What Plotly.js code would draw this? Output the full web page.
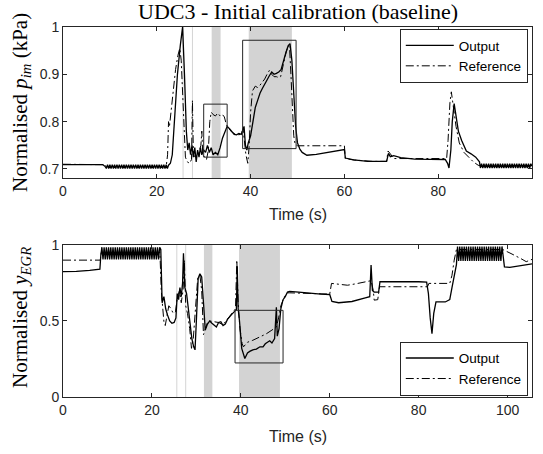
<!DOCTYPE html>
<html><head><meta charset="utf-8">
<script src="https://cdn.plot.ly/plotly-3.0.1.min.js"></script>
<style>html,body{margin:0;padding:0;background:#fff}#chart{width:543px;height:454px}</style>
</head><body><div id="chart"></div>
<script>
// ---- DATA (time s, normalised value) ----
const topOutput = [[0,.709],[8.5,.709],[9,.705],
[9.25,.701],[9.5,.709],[9.75,.701],[10,.709],[10.25,.701],[10.5,.709],[10.75,.701],[11,.709],[11.25,.701],[11.5,.709],[11.75,.701],[12,.709],[12.25,.701],[12.5,.709],[12.75,.701],[13,.709],[13.25,.701],[13.5,.709],[13.75,.701],[14,.709],[14.25,.701],[14.5,.709],[14.75,.701],[15,.709],[15.25,.701],[15.5,.709],[15.75,.701],[16,.709],[16.25,.701],[16.5,.709],[16.75,.701],[17,.709],[17.25,.701],[17.5,.709],[17.75,.701],[18,.709],[18.25,.701],[18.5,.709],[18.75,.701],[19,.709],[19.25,.701],[19.5,.709],[19.75,.701],[20,.709],[20.25,.701],[20.5,.709],[20.75,.701],[21,.709],[21.25,.701],[21.5,.709],[21.75,.701],[22,.709],[22.25,.701],[22.5,.708],
[22.9,.712],[23.3,.73],[23.8,.80],[24.4,.90],[25.0,.96],[25.5,1.0],[25.9,.90],[26.3,.78],[26.6,.74],[26.9,.755],[27.2,.73],[27.5,.75],[27.8,.725],[28.1,.745],[28.4,.715],[28.7,.74],[29.0,.725],[29.3,.745],[29.6,.73],[30.0,.74],[30.4,.735],[30.8,.75],[31.2,.735],[31.6,.745],[32.0,.73],[32.5,.735],[33.0,.73],[33.5,.745],[34.0,.765],[34.5,.78],[35.0,.79],[35.5,.785],[36.0,.778],[36.5,.773],[37.0,.772],[37.5,.775],[38.0,.773],[38.3,.78],[38.6,.79],[38.9,.75],[39.2,.74],[39.5,.755],[40.0,.77],[40.5,.80],[41.0,.83],[41.5,.845],[42.0,.86],[42.5,.87],[43.0,.88],[43.5,.89],[44.0,.897],[44.5,.905],[45.0,.90],[45.5,.902],[46.0,.905],[46.5,.91],[47.0,.93],[47.5,.945],[48.0,.96],[48.4,.965],[48.8,.93],[49.2,.86],[49.6,.79],[50.0,.755],[50.5,.742],[51.0,.735],[52.0,.729],[54.0,.731],[56.0,.734],[58.0,.737],[60.0,.741],[60.2,.723],[62.0,.719],[65.0,.716],[68.0,.717],[69.0,.716],[69.4,.733],[69.8,.726],[70.5,.728],[72.0,.724],[75.0,.721],[78.0,.72],[81.5,.72],[82.0,.712],[82.3,.702],[82.7,.74],[83.0,.80],[83.4,.838],[83.8,.81],[84.3,.78],[85.0,.76],[86.0,.738],[87.0,.732],[88.0,.725],[88.8,.715],
[89,.702],[89.25,.711],[89.5,.702],[89.75,.711],[90,.702],[90.25,.711],[90.5,.702],[90.75,.711],[91,.702],[91.25,.711],[91.5,.702],[91.75,.711],[92,.702],[92.25,.711],[92.5,.702],[92.75,.711],[93,.702],[93.25,.711],[93.5,.702],[93.75,.711],[94,.702],[94.25,.711],[94.5,.702],[94.75,.711],[95,.702],[95.25,.711],[95.5,.702],[95.75,.711],[96,.702],[96.25,.711],[96.5,.702],[96.75,.711],[97,.702],[97.25,.711],[97.5,.702],[97.75,.711],[98,.702],[98.25,.711],[98.5,.702],[98.75,.711],[99,.702],[99.25,.711],[99.5,.702],[99.75,.711],[100,.706]];

const topReference = [[0,.71],[9,.709],[9.2,.705],[22.0,.705],[22.3,.73],[22.5,.80],[22.7,.79],[23.0,.82],[23.5,.87],[24.0,.91],[24.5,.94],[24.9,.955],[25.2,.93],[25.5,.86],[25.8,.77],[26.1,.725],[26.5,.715],[27.0,.712],[27.4,.72],[27.6,.845],[27.8,.73],[28.2,.725],[28.6,.73],[29.0,.735],[29.4,.75],[29.6,.78],[29.8,.73],[30.2,.725],[30.6,.72],[31.0,.74],[31.3,.80],[31.6,.82],[32.0,.815],[32.5,.812],[33.0,.818],[33.5,.812],[34.0,.815],[34.4,.81],[34.8,.795],[35.2,.787],[35.6,.782],[36.0,.778],[37.0,.772],[38.0,.773],[38.4,.785],[38.7,.75],[39.0,.73],[39.4,.712],[39.7,.75],[40.0,.82],[40.4,.865],[41.0,.875],[41.5,.872],[42.0,.877],[42.5,.883],[43.0,.89],[43.5,.90],[44.0,.908],[44.5,.90],[45.0,.895],[45.5,.895],[46.0,.893],[46.4,.895],[46.8,.915],[47.2,.93],[47.6,.948],[48.0,.96],[48.3,.958],[48.6,.90],[48.9,.82],[49.2,.77],[49.5,.752],[50.0,.749],[60.0,.749],[60.2,.722],[62.0,.719],[66.0,.716],[69.0,.716],[69.3,.738],[69.8,.732],[70.5,.722],[75.0,.722],[81.8,.722],[82.1,.76],[82.5,.84],[82.8,.863],[83.2,.83],[83.8,.79],[84.5,.755],[85.5,.735],[86.5,.725],[87.5,.715],[88.5,.708],[89.5,.705],[100,.705]];

const bottomOutput = [[0,.825],[3,.826],[6,.833],[8.3,.84],[8.5,.93],
[8.75,.985],[9,.905],[9.25,.985],[9.5,.905],[9.75,.985],[10,.905],[10.25,.985],[10.5,.905],[10.75,.985],[11,.905],[11.25,.985],[11.5,.905],[11.75,.985],[12,.905],[12.25,.985],[12.5,.905],[12.75,.985],[13,.905],[13.25,.985],[13.5,.905],[13.75,.985],[14,.905],[14.25,.985],[14.5,.905],[14.75,.985],[15,.905],[15.25,.985],[15.5,.905],[15.75,.985],[16,.905],[16.25,.985],[16.5,.905],[16.75,.985],[17,.905],[17.25,.985],[17.5,.905],[17.75,.985],[18,.905],[18.25,.985],[18.5,.905],[18.75,.985],[19,.905],[19.25,.985],[19.5,.905],[19.75,.985],[20,.905],[20.25,.985],[20.5,.905],[20.75,.985],[21,.905],[21.25,.985],[21.5,.905],[21.75,.985],
[22.0,.97],[22.3,.62],[22.7,.66],[23.1,.58],[23.5,.54],[24.0,.50],[24.5,.485],[25.0,.49],[25.4,.52],[25.7,.68],[26.0,.64],[26.3,.72],[26.6,.66],[26.9,.75],[27.1,.945],[27.4,.72],[27.8,.68],[28.2,.58],[28.6,.45],[29.0,.38],[29.4,.33],[29.7,.31],[30.0,.50],[30.4,.78],[30.8,.81],[31.2,.79],[31.6,.62],[32.0,.44],[32.5,.48],[33.0,.50],[33.5,.485],[34.0,.47],[34.5,.46],[35.0,.49],[35.5,.495],[36.0,.47],[36.5,.48],[37.0,.51],[37.5,.53],[38.0,.545],[38.5,.56],[39.0,.575],[39.2,.86],[39.4,.58],[39.7,.50],[40.2,.32],[40.9,.253],[41.5,.29],[42.0,.30],[42.7,.31],[43.5,.315],[44.3,.33],[45.0,.33],[45.5,.35],[46.0,.36],[46.5,.37],[47.0,.355],[47.6,.384],[48.0,.59],[48.2,.40],[48.6,.45],[49.0,.58],[49.5,.64],[50.0,.66],[50.5,.69],[51.0,.695],[53.0,.69],[55.0,.683],[58.0,.677],[60.0,.674],[60.5,.628],[62.0,.62],[65.0,.628],[68.0,.652],[69.0,.66],[69.3,.868],[69.6,.70],[70.0,.69],[71.0,.69],[71.3,.758],[75.0,.76],[80.0,.758],[81.8,.756],[82.2,.68],[82.6,.52],[83.0,.417],[83.4,.55],[83.9,.626],[86.0,.625],[87.0,.64],[87.5,.72],[88.0,.80],[88.5,.87],
[88.75,.99],[89,.895],[89.25,.99],[89.5,.895],[89.75,.99],[90,.895],[90.25,.99],[90.5,.895],[90.75,.99],[91,.895],[91.25,.99],[91.5,.895],[91.75,.99],[92,.895],[92.25,.99],[92.5,.895],[92.75,.99],[93,.895],[93.25,.99],[93.5,.895],[93.75,.99],[94,.895],[94.25,.99],[94.5,.895],[94.75,.99],[95,.895],[95.25,.99],[95.5,.895],[95.75,.99],[96,.895],[96.25,.99],[96.5,.895],[96.75,.99],[97,.895],[97.25,.99],[97.5,.895],[97.75,.99],[98,.895],[98.25,.99],[98.5,.895],[98.75,.99],
[99.3,.856],[100.5,.852],[102.0,.86],[104.0,.87],[105.5,.875]];

const bottomReference = [[0,.90],[8.4,.90],[8.6,.95],[21.8,.95],[22.1,.70],[22.4,.56],[22.7,.495],[23.0,.47],[23.4,.55],[23.8,.60],[24.3,.58],[24.8,.55],[25.3,.56],[25.7,.65],[26.2,.70],[26.6,.62],[27.0,.70],[27.3,.90],[27.6,.60],[28.0,.55],[28.5,.45],[28.9,.32],[29.3,.38],[29.8,.62],[30.3,.78],[30.8,.80],[31.2,.70],[31.6,.41],[32.0,.45],[32.5,.49],[33.0,.50],[35.0,.49],[36.0,.475],[37.0,.51],[38.0,.55],[38.8,.58],[39.1,.90],[39.4,.62],[39.8,.45],[40.3,.35],[40.6,.33],[41.5,.36],[42.7,.373],[44.0,.39],[45.7,.415],[47.0,.44],[48.0,.46],[48.5,.52],[49.0,.60],[49.8,.66],[50.5,.685],[51.0,.685],[55.0,.68],[60.0,.677],[60.4,.747],[62.0,.742],[64.0,.735],[66.0,.745],[68.2,.76],[69.3,.765],[69.8,.70],[70.0,.637],[70.8,.64],[71.2,.725],[82.0,.725],[82.3,.747],[87.0,.747],[87.5,.80],[88.0,.90],[88.5,.97],[98.9,.97],[99.5,.96],[101.0,.94],[103.0,.91],[104.2,.89],[105.5,.905]];

const seriesNames = ['Output','Reference'];
const markerTimes = [25.6, 27.6];          // thin grey lines
const shadedBands = [[31.7,33.6],[39.6,48.8]];
const topBoxes = [[30.0,35.0,0.725,0.837],[38.3,49.7,0.743,0.972]];
const bottomBoxes = [[38.7,49.5,0.224,0.57]];
const topXTicks = [0,20,40,60,80,100];
const bottomXTicks = [0,20,40,60,80,100];
const topYTicks = [0.7,0.8,0.9,1];
const topYTickText = ['0.7','0.8','0.9','1'];
const bottomYTicks = [0,0.5,1];
const bottomYTickText = ['0','0.5','1'];
const chartTitle = 'UDC3 - Initial calibration (baseline)';
const topYTitle = 'Normalised <i>p</i><sub><i>im</i></sub> (kPa)';
const bottomYTitle = 'Normalised <i>y</i><sub><i>EGR</i></sub>';
const xTitle = 'Time (s)';

// ---- PLOT ----
const sans = 'Liberation Sans, Arial, sans-serif';
const serif = 'Liberation Serif, Times New Roman, serif';
const axCol = '#262626';
const refDash = '8px,3px,2px,3px';

function tr(data, name, xa, ya, dash, width, legend, show){
  return {x: data.map(p=>p[0]), y: data.map(p=>p[1]), type:'scatter', mode:'lines', name:name,
    xaxis:xa, yaxis:ya, line:{color:'#000', width:width, dash:dash}, legend:legend, showlegend:show, hoverinfo:'skip'};
}
const traces = [
  tr(topOutput, seriesNames[0], 'x', 'y', 'solid', 1.3, 'legend', true),
  tr(topReference, seriesNames[1], 'x', 'y', refDash, 1, 'legend', true),
  tr(bottomOutput, seriesNames[0], 'x2', 'y2', 'solid', 1.3, 'legend2', true),
  tr(bottomReference, seriesNames[1], 'x2', 'y2', refDash, 1, 'legend2', true)
];

const shapes = [];
[['x','y domain'],['x2','y2 domain']].forEach(([xr,yr])=>{
  shadedBands.forEach(b=>shapes.push({type:'rect', xref:xr, yref:yr, x0:b[0], x1:b[1], y0:0, y1:1, fillcolor:'#d3d3d3', line:{width:0}, layer:'below'}));
  markerTimes.forEach(t=>shapes.push({type:'line', xref:xr, yref:yr, x0:t, x1:t, y0:0, y1:1, line:{color:'#d4d4d4', width:1}, layer:'below'}));
});
topBoxes.forEach(b=>shapes.push({type:'rect', xref:'x', yref:'y', x0:b[0], x1:b[1], y0:b[2], y1:b[3], line:{color:axCol, width:1}, fillcolor:'rgba(0,0,0,0)', layer:'above'}));
bottomBoxes.forEach(b=>shapes.push({type:'rect', xref:'x2', yref:'y2', x0:b[0], x1:b[1], y0:b[2], y1:b[3], line:{color:axCol, width:1}, fillcolor:'rgba(0,0,0,0)', layer:'above'}));

function axis(extra){
  return Object.assign({showgrid:false, zeroline:false, showline:true, linecolor:axCol, linewidth:1, mirror:'ticks',
    ticks:'inside', ticklen:4, tickcolor:axCol, tickfont:{family:sans, size:14, color:axCol}, fixedrange:true}, extra);
}
const L = 63, R = 11, T = 27, B = 57, H = 454 - T - B, W = 543 - L - R;
const legendBase = {xanchor:'right', x:0.991, bordercolor:axCol, borderwidth:1, bgcolor:'#fff',
  font:{family:sans, size:13.5, color:'#000'}, itemwidth:48, tracegroupgap:0};

const layout = {
  width:543, height:454, margin:{l:L, r:R, t:T, b:B}, paper_bgcolor:'#fff', plot_bgcolor:'#fff',
  xaxis: axis({range:[0,100], tickvals:topXTicks, anchor:'y'}),
  yaxis: axis({range:[0.681,1], tickvals:topYTicks, ticktext:topYTickText, domain:[0.592,1], anchor:'x'}),
  xaxis2: axis({range:[0,105.5], tickvals:bottomXTicks, anchor:'y2'}),
  yaxis2: axis({range:[0,1], tickvals:bottomYTicks, ticktext:bottomYTickText, domain:[0,0.411], anchor:'x2'}),
  shapes: shapes,
  legend: Object.assign({}, legendBase, {y:(397-29)/H, yanchor:'top'}),
  legend2: Object.assign({}, legendBase, {y:(397-395.7)/H, yanchor:'bottom'}),
  annotations: [
    {text:chartTitle, xref:'paper', yref:'paper', x:0.5, y:(397-11)/H, showarrow:false, xanchor:'center', yanchor:'middle', font:{family:serif, size:22, color:'#000'}},
    {text:topYTitle, xref:'paper', yref:'paper', x:(21-L)/W, y:(397-103)/H, showarrow:false, textangle:-90, xanchor:'center', yanchor:'middle', font:{family:serif, size:21, color:'#000'}},
    {text:bottomYTitle, xref:'paper', yref:'paper', x:(21-L)/W, y:(397-318)/H, showarrow:false, textangle:-90, xanchor:'center', yanchor:'middle', font:{family:serif, size:21, color:'#000'}},
    {text:xTitle, xref:'paper', yref:'paper', x:0.5, y:(397-215)/H, showarrow:false, xanchor:'center', yanchor:'middle', font:{family:sans, size:16, color:axCol}},
    {text:xTitle, xref:'paper', yref:'paper', x:0.5, y:(397-436)/H, showarrow:false, xanchor:'center', yanchor:'middle', font:{family:sans, size:16, color:axCol}}
  ]
};
Plotly.newPlot('chart', traces, layout, {staticPlot:true, displayModeBar:false});
</script></body></html>
